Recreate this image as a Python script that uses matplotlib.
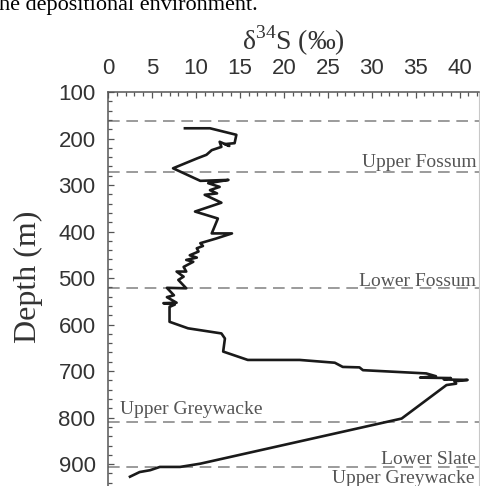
import matplotlib.pyplot as plt
from matplotlib.ticker import MultipleLocator

plt.rcParams['mathtext.fontset'] = 'custom'
plt.rcParams['mathtext.rm'] = 'Liberation Serif'

# d34S profile (per mil vs depth in m)
d34s = [8.75, 11.6, 14.6, 14.4, 13.3, 13.8, 12.7, 12.9, 11.8, 11.2, 10.1, 7.4,
        10.5, 13.7, 11.4, 12.7, 11.6, 12.4, 11.0, 12.9, 9.9, 12.5, 11.8, 14.1,
        12.3, 10.5, 10.8, 10.1, 10.3, 9.3, 10.1, 8.9, 9.7, 8.6, 8.9, 7.8, 8.6,
        8.0, 8.9, 6.7, 7.5, 6.7, 7.8, 6.3, 7.6, 7.0, 7.0, 9.1, 12.9, 13.3, 13.1,
        15.9, 21.8, 25.8, 26.7, 28.6, 29.0, 36.2, 37.3, 35.5, 39.0, 38.2, 40.9,
        39.4, 39.6, 38.5, 33.4, 10.5, 8.2, 5.9, 4.8, 3.6, 2.5]
depth = [178, 178, 192, 210, 212, 216, 207, 218, 225, 235, 243, 264,
         291, 289, 296, 304, 311, 318, 321, 338, 357, 372, 404, 404,
         415, 425, 431, 436, 443, 451, 456, 461, 465, 476, 486, 486, 497,
         504, 522, 521, 537, 541, 553, 554, 557, 562, 594, 608, 619, 630, 658,
         676, 676, 682, 691, 692, 698, 705, 711, 714, 715, 718, 719,
         722, 727, 730, 802, 899, 906, 906, 913, 917, 927]

# unit boundaries
boundaries = [163, 273, 522, 810, 906]
units = ["Upper Fossum", "Lower Fossum", "Upper Greywacke", "Lower Slate", "Upper Greywacke"]
unit_pos = [(41.9, 262, 'right'), (41.9, 516, 'right'), (1.4, 793, 'left'),
            (41.9, 900, 'right'), (41.7, 941, 'right')]

fig = plt.figure(figsize=(4.81, 4.86), dpi=100)
ax = fig.add_axes([108/481, 0, 371/481, 1 - 92/486])

for b in boundaries:
    ax.axhline(b, color='#8a8a8a', lw=1.2, linestyle=(0, (7, 4)), zorder=1)

ax.plot(d34s, depth, color='#1a1a1a', lw=1.9, zorder=3)

for name, (x, y, ha) in zip(units, unit_pos):
    ax.text(x, y, name, ha=ha, va='baseline', fontsize=14,
            family='Liberation Serif', color='#555555')

ax.set_xlim(0, 42.2)
ax.set_ylim(947, 100)
ax.xaxis.set_major_locator(MultipleLocator(5))
ax.xaxis.set_minor_locator(MultipleLocator(1))
ax.yaxis.set_major_locator(MultipleLocator(100))
ax.yaxis.set_minor_locator(MultipleLocator(20))
ax.xaxis.tick_top()
ax.tick_params(which='both', direction='in', color='#555555', width=0.9,
               labelsize=16, labelcolor='#333333', pad=9)
ax.tick_params(which='major', length=4.5)
ax.tick_params(which='minor', length=3)
ax.tick_params(axis='x', which='both', bottom=False, top=True)
ax.tick_params(axis='y', which='both', right=False)
for lab in ax.get_xticklabels() + ax.get_yticklabels():
    lab.set_family('Liberation Sans')

ax.spines['bottom'].set_visible(False)
ax.spines['left'].set_color('#555555')
ax.spines['top'].set_color('#555555')
ax.spines['left'].set_linewidth(1.1)
ax.spines['top'].set_linewidth(1.1)
ax.spines['right'].set_color('#c8c8c8')
ax.spines['right'].set_linewidth(0.8)

ax.xaxis.set_label_position('top')
ax.set_xlabel(r"δ$^{\mathrm{34}}$S (‰)", fontsize=20, family='Liberation Serif',
              color='#333333', labelpad=6)
ax.set_ylabel("Depth (m)", fontsize=23, family='Liberation Serif', color='#333333')
ax.yaxis.set_label_coords(-0.175, 0.53)

fig.text(-0.002, 1 - 10/486, "he depositional environment.", fontsize=16,
         family='Liberation Serif', color='black', ha='left', va='baseline')

fig.savefig('out.png', dpi=100)
